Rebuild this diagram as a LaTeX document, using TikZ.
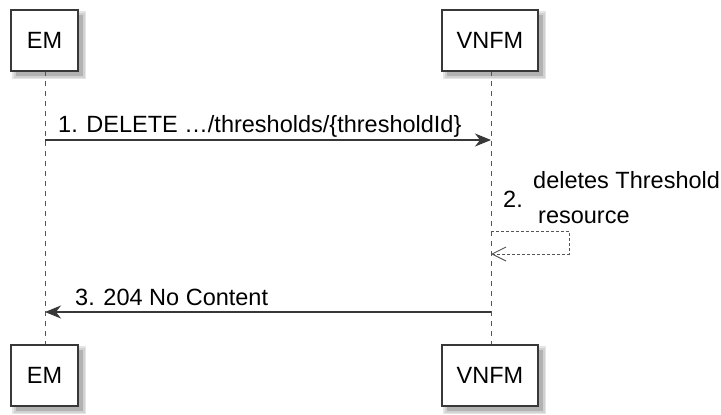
\documentclass[tikz,border=0pt]{standalone}
\usepackage{fontspec}
\setmainfont{Liberation Sans}
\usetikzlibrary{arrows.meta}
\definecolor{boxline}{HTML}{383838}
\definecolor{lifegray}{HTML}{555555}
\tikzset{
  pbox/.style={draw=boxline, line width=1.8pt, fill=white, inner sep=0pt,
    minimum height=61pt, font=\fontsize{23.5}{28}\selectfont, text=black},
  lifeline/.style={draw=lifegray, line width=1pt, dash pattern=on 5pt off 5pt},
  msg/.style={draw=boxline, line width=1.3pt, -{Stealth[length=16pt,width=13pt,inset=5pt]}},
  selfmsg/.style={draw=lifegray, line width=1pt, dash pattern=on 3pt off 2pt,
    -{Straight Barb[length=14pt,width=14pt,line width=1pt]}},
  lbl/.style={inner sep=0pt, anchor=base west, font=\fontsize{23.5}{28}\selectfont, text=black}
}
\newcommand{\shadowbox}[4]{%
  \fill[black!10] (#1+1,#2+1) rectangle (#3+8,#4+8);
  \fill[black!18] (#1+3,#2+3) rectangle (#3+7,#4+7);
  \fill[black!30] (#1+5,#2+5) rectangle (#3+5,#4+5);}
\begin{document}
\begin{tikzpicture}[x=1pt,y=-1pt]
\useasboundingbox (0,0) rectangle (721,415);
% shadows
\shadowbox{11}{10}{78}{71}
\shadowbox{442}{10}{538}{71}
\shadowbox{11}{345}{78}{406}
\shadowbox{442}{345}{538}{406}
% lifelines
\coordinate (emtopS) at (45,71);
\coordinate (embotN) at (45,345);
\coordinate (vntopS) at (491,71);
\coordinate (vnbotN) at (491,345);
\draw[lifeline] (emtopS) -- (embotN);
\draw[lifeline] (vntopS) -- (vnbotN);
% participant boxes
\node[pbox, minimum width=67pt] (emtop) at (44.5,40.5) {EM};
\node[pbox, minimum width=96pt] (vntop) at (490,40.5) {VNFM};
\node[pbox, minimum width=67pt] (embot) at (44.5,375.5) {EM};
\node[pbox, minimum width=96pt] (vnbot) at (490,375.5) {VNFM};
% message 1
\coordinate (m1a) at (45,140);
\coordinate (m1b) at (491,140);
\draw[msg] (m1a) -- (m1b);
\node[lbl] (l1) at (58,132) {1. DELETE …/thresholds/\{thresholdId\}};
% message 2 (self)
\coordinate (m2a) at (491,231);
\coordinate (m2c1) at (569,231);
\coordinate (m2c2) at (569,254);
\coordinate (m2b) at (491,254);
\draw[selfmsg] (m2a) -- (m2c1) -- (m2c2) -- (m2b);
\node[lbl] (l2n) at (503,207) {2.};
\node[lbl] (l2a) at (533,188) {deletes Threshold};
\node[lbl] (l2b) at (538,223) {resource};
% message 3
\coordinate (m3a) at (491,312);
\coordinate (m3b) at (45,312);
\draw[msg] (m3a) -- (m3b);
\node[lbl] (l3) at (75,305) {3. 204 No Content};
\end{tikzpicture}
\end{document}
